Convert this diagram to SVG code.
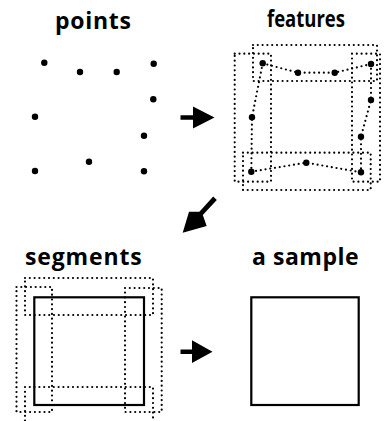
<svg xmlns="http://www.w3.org/2000/svg" width="384" height="421" viewBox="0 0 384 421">
<style>
.lbl{font-family:"Open Sans","Liberation Sans",sans-serif;font-weight:700;font-size:23px;fill:#000;text-anchor:start}
.dot{fill:none;stroke:#000;stroke-width:2.2;stroke-linecap:round;stroke-dasharray:0 4.8}
.pt{fill:#000}
.box{fill:none;stroke:#000;stroke-width:2.2}
.arr{fill:#000;stroke:none}
</style>
<rect width="384" height="421" fill="#fff"/>
<g id="points">
<text class="lbl" x="55" y="28.5" textLength="76" lengthAdjust="spacing">points</text>
<g class="pt">
<circle cx="44.3" cy="62.7" r="3.2"/>
<circle cx="80" cy="72" r="3.2"/>
<circle cx="116.7" cy="72" r="3.2"/>
<circle cx="153.7" cy="63.7" r="3.2"/>
<circle cx="153.3" cy="99.3" r="3.2"/>
<circle cx="35" cy="116.7" r="3.2"/>
<circle cx="144" cy="135.7" r="3.2"/>
<circle cx="89" cy="161.7" r="3.2"/>
<circle cx="35" cy="171" r="3.2"/>
<circle cx="144" cy="171.3" r="3.2"/>
</g>
</g>
<g id="features">
<text class="lbl" x="267" y="27" textLength="78" lengthAdjust="spacingAndGlyphs">features</text>
<rect class="dot" x="253" y="45" width="124" height="36"/>
<rect class="dot" x="234.7" y="53.7" width="36.3" height="128"/>
<rect class="dot" x="352" y="53.7" width="28" height="128"/>
<rect class="dot" x="243" y="152.7" width="127.7" height="37.3"/>
<polyline class="dot" points="262.7,63.3 298,72.7 334.7,72.7 371,64"/>
<polyline class="dot" points="262.7,63.3 252,117.3 251.3,171.7"/>
<polyline class="dot" points="371,64 371,100 361,136.7 361,172.3"/>
<polyline class="dot" points="251.3,171.7 306.3,162.7 361,172.3"/>
<g class="pt">
<circle cx="262.7" cy="63.3" r="3.2"/>
<circle cx="298" cy="72.7" r="3.2"/>
<circle cx="334.7" cy="72.7" r="3.2"/>
<circle cx="371" cy="64" r="3.2"/>
<circle cx="371" cy="100" r="3.2"/>
<circle cx="252" cy="117.3" r="3.2"/>
<circle cx="361" cy="136.7" r="3.2"/>
<circle cx="306.3" cy="162.7" r="3.2"/>
<circle cx="251.3" cy="171.7" r="3.2"/>
<circle cx="361" cy="172.3" r="3.2"/>
</g>
</g>
<g id="segments">
<text class="lbl" x="25" y="265" textLength="116.7" lengthAdjust="spacing">segments</text>
<rect class="dot" x="25" y="278" width="128" height="37"/>
<rect class="dot" x="16.5" y="287" width="35.5" height="125"/>
<rect class="dot" x="125" y="288" width="36.7" height="124"/>
<rect class="dot" x="25" y="387" width="128" height="40"/>
<rect class="box" x="34.3" y="297.3" width="109.7" height="107.7"/>
</g>
<g id="sample">
<text class="lbl" x="252" y="264.5" textLength="106.7" lengthAdjust="spacing">a sample</text>
<rect class="box" x="251.3" y="297.3" width="107.4" height="107.7"/>
</g>
<g id="connectors">
<path class="arr" d="M180.5,115.3 H193 V106.5 L214.5,117.5 L193,128.5 V119.8 H180.5 Z"/>
<path class="arr" d="M180.5,349.5 H192 V340.3 L212.5,351.7 L192,363 V354 H180.5 Z"/>
<path class="arr" d="M213.2,196.6 L216.8,200 L202.8,215 L206.7,226 L182.7,232.7 L189,211.7 L199.4,211.7 Z"/>
</g>
</svg>
